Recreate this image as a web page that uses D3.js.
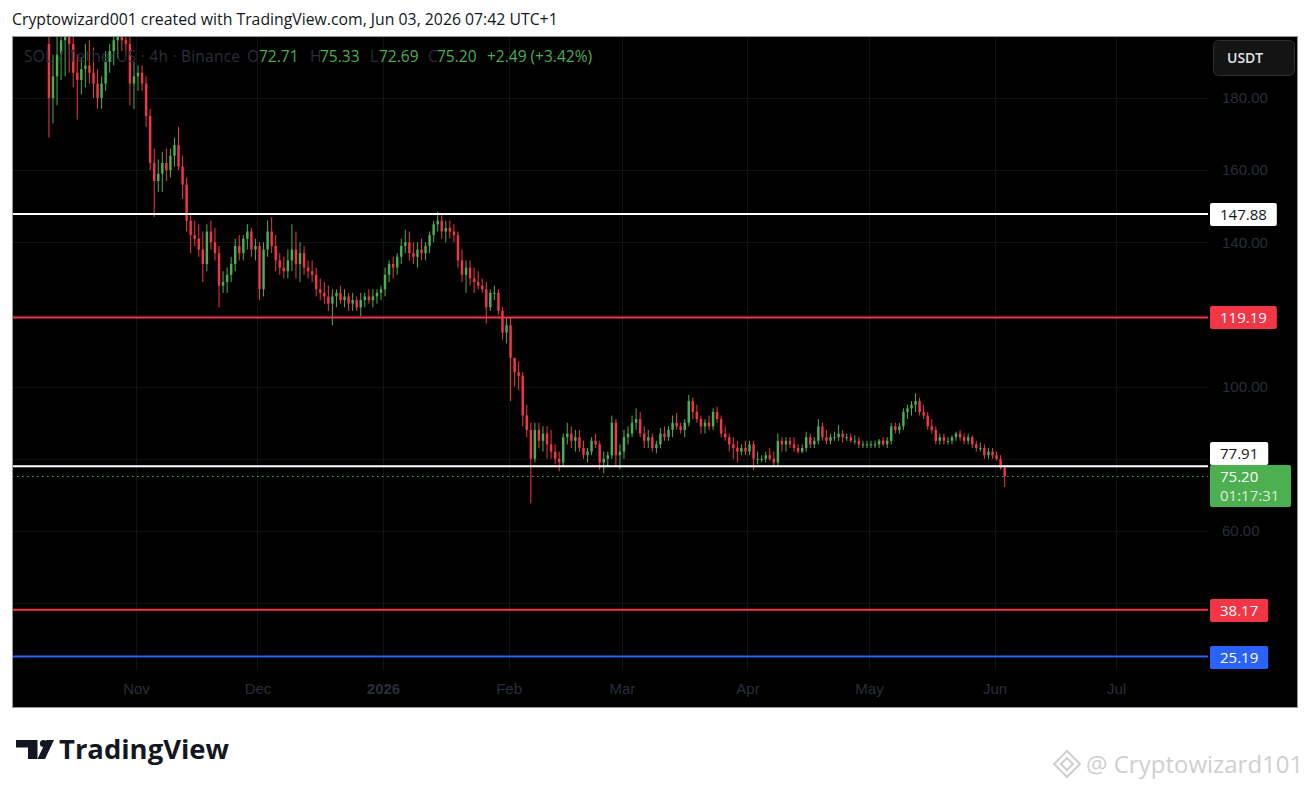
<!DOCTYPE html>
<html>
<head>
<meta charset="utf-8">
<script src="https://cdn.jsdelivr.net/npm/d3@7"></script>
<style>
html, body { margin: 0; padding: 0; background: #fff; }
svg { display: block; font-family: "Open Sans", "Noto Sans", sans-serif; }
</style>
</head>
<body>
<div id="chart"></div>
<script>
// SOL/USDT, one candle per day (Oct 10 2025 -> Jun 3 2026)
var startDate = "2025-10-10";
var firstOpen = 195;
var highs = [
  197,192,197,205,204,206,200,192,191,195,196,194,188,186,193,195,198,204,205,203,198,190,
  189,189,186,177,166,163,165,166,166,169,172,164,158,148,146,145,143,145,146,144,139,132,133,136,141,142,142,145,144,141,
  140,140,146,147,142,137,136,138,145,143,140,139,135,135,133,130,129,128,127,127,128,127,126,126,125,126,126,127,127,127,128,
  133,135,136,137,141,143.5,143,140,140,141,140,143,146,148.5,148,146,146,145,143,138,135,135,133,132,130,129,127,128,127,122,119,
  119,108,107,104,95,90,90,90,89,89,88,84,82,87,90,89,88,88,85,83,86,87,85,82,82,92,91,84,
  88,89,92,94,93,89,88,87,85,88.5,89,89,92,92.7,90,91,97.7,97,95,92,91,92,94,94.5,92,89,87,86,85,84,85,
  85,85,82,81,82,83,82,87,86,86,86,86,84,84,87.5,87,86,91,90,88,87,87.5,89.4,88,87,87,86.5,86,85,85,
  85,85,85.5,86,86,90,90,90,94,95,96,98.2,97,95,93,91,89,87,87,86,86.5,87.5,88,87,87,86.5,85,84.5,84,83,83,
  82,81,78
];
var lows = [
  169,173,178,185,186,187,183,174,181,183,184,180,177,177,182,187,189,191,193,192,178,177,
  182,182,172,160,147,154,154,157,158,161,160,152,143,137,139,136,129,132,138,135,122,126,126,129,132,135,135,138,136,135,
  124,125,136,137,132,131,130,130,132,130,129,131,130,129,125,124,123,121,117,122,123,122,121,121,121,119.5,122,123,122,123,124,
  125,129,130,131,134,137,135,134,133,135,135,137,140,143,141,140,141,140,133,129,126,128,126,127,126,117.5,121,124,120,113,112,
  96,100,99,89,86,67.7,79,83,82,80,80,78.5,76.5,78,84,83,82,82,80,79,81,83,77,76,78,80,78,77,
  80,84,86,88,86,83,83,82,81.5,83,85,85,86,88,87,86,89,91,90,87,87,88,88,90,86,85,82,80,79,81,81,
  81,77,78.5,79,79,79.5,78,78,82,82,83,82,81.5,81.5,82,83,83,84,85,84,84,85,85,84.5,85,84.5,84,83,83,83,
  83,83,83,83.5,83,84,87,87,88,91,92,93,92,91,88,87,84,84,84,84,84,85,85,84,84,83,82,82,80,80,80,
  79.5,77,72.2
];
var closes = [
  180,186,192,196,198,195,187,185,188,189,187,184,180,184,190,193,196,199,196,195,184,186,
  187,184,175,162,157,159,162,160,164,167,161,156,146,142,141,138,134,143,140,137,128,129,131,134,139,137,141,143,138,139,
  127,138,143,139,135,133,132,135,138,134,137,133,132,131,127,126,125,123,125,126,124,125,123,124,122,124,125,124,125,126,127,
  131,134,133,136,139,140,137,136,138,137,139,142,145,146,143,144,143,142,135,131,133,130,129,128,127,122,126,126,121,115,117,
  108,104,103,92,88,80,88,85,87,84,82,80,79,86,87,85,86,83,81,82,85,84,79,80,81,90,81,82,
  86,87,90,91,87,85,86,83,84,87,86,88,90,89,88,90,96,93,91,89,90,89,93,91,87,86,84,83,82,83,82,
  84,80,80,80,81,80,79,85,84,85,84,83,82,83,86,84,85,89,86,85,86,86,87,86,86,85,85,84,84,84,
  84,84,85,84,85,89,88,89,93,94,95,96,93,92,89,88,85,86,85,85,86,87,86,85,86,84,83,83,81,82,81,
  80,77.5,75.2
];

var priceTicks = [180, 160, 140, 120, 100, 80, 60, 40];
var monthTicks = ["2025-11-01","2025-12-01","2026-01-01","2026-02-01","2026-03-01","2026-04-01","2026-05-01","2026-06-01","2026-07-01"];
var monthLabels = ["Nov","Dec","2026","Feb","Mar","Apr","May","Jun","Jul"];
var levelValues = [147.88, 119.19, 77.91, 38.17, 25.19];
var levelColors = ["#ffffff", "#f23645", "#ffffff", "#f23645", "#2962ff"];
var lastPrice = 75.20;
var countdown = "01:17:31";
var legendKeys = ["O", "H", "L", "C"];
var legendValues = ["72.71", "75.33", "72.69", "75.20"];
var legendChange = "+2.49 (+3.42%)";

var W = 1311, H = 790;
var pane = {left: 12, top: 36, right: 1297, bottom: 707, plotRight: 1208};
var up = "#4caf50", down = "#f23645", axisText = "#2a2e39";

var svg = d3.select("#chart").append("svg")
    .attr("width", W).attr("height", H);

svg.append("text")
    .attr("x", 12).attr("y", 19).attr("dy", "0.35em")
    .attr("fill", "#131722").style("font-size", "15.8px")
    .text("Cryptowizard001 created with TradingView.com, Jun 03, 2026 07:42 UTC+1");

svg.append("rect")
    .attr("x", pane.left + 0.5).attr("y", pane.top + 0.5)
    .attr("width", pane.right - pane.left).attr("height", pane.bottom - pane.top)
    .attr("fill", "#000").attr("stroke", "#9598a1");

var x = d3.scaleUtc()
    .domain([new Date("2025-11-01T00:00:00Z"), new Date("2026-07-01T00:00:00Z")])
    .range([136, 1116]);
var y = d3.scaleLinear().domain([60, 180]).range([531, 98]);

var defs = svg.append("defs");
defs.append("clipPath").attr("id", "plot-clip").append("rect")
    .attr("x", pane.left + 1).attr("y", pane.top + 1)
    .attr("width", pane.plotRight - pane.left - 1).attr("height", pane.bottom - pane.top - 2);

// grid
var grid = svg.append("g").attr("clip-path", "url(#plot-clip)");
grid.selectAll(".vgrid").data(monthTicks).enter().append("line")
    .attr("x1", function (d) { return Math.round(x(new Date(d + "T00:00:00Z"))) + 0.5; })
    .attr("x2", function (d) { return Math.round(x(new Date(d + "T00:00:00Z"))) + 0.5; })
    .attr("y1", pane.top).attr("y2", 670)
    .attr("stroke", "#121212");
grid.selectAll(".hgrid").data(priceTicks).enter().append("line")
    .attr("x1", pane.left).attr("x2", pane.plotRight)
    .attr("y1", function (d) { return Math.round(y(d)) + 0.5; })
    .attr("y2", function (d) { return Math.round(y(d)) + 0.5; })
    .attr("stroke", "#121212");

// candles
var t0 = new Date(startDate + "T12:00:00Z");
var candles = closes.map(function (c, i) {
    return {
        date: d3.utcDay.offset(t0, i),
        open: i === 0 ? firstOpen : closes[i - 1],
        high: highs[i], low: lows[i], close: c
    };
});
var step = x(d3.utcDay.offset(t0, 1)) - x(t0);
var bodyW = step * 0.6;

var plot = svg.append("g").attr("clip-path", "url(#plot-clip)");
var candle = plot.selectAll(".candle").data(candles).enter().append("g");
candle.append("line")
    .attr("x1", function (d) { return x(d.date); })
    .attr("x2", function (d) { return x(d.date); })
    .attr("y1", function (d) { return y(Math.max(d.high, d.open, d.close)); })
    .attr("y2", function (d) { return y(Math.min(d.low, d.open, d.close)); })
    .attr("stroke", function (d) { return d.close >= d.open ? up : down; })
    .attr("stroke-width", 1);
candle.append("rect")
    .attr("x", function (d) { return x(d.date) - bodyW / 2; })
    .attr("width", bodyW)
    .attr("y", function (d) { return y(Math.max(d.open, d.close)); })
    .attr("height", function (d) { return Math.max(1, Math.abs(y(d.open) - y(d.close))); })
    .attr("fill", function (d) { return d.close >= d.open ? up : down; });

// legend
var legend = svg.append("g").style("font-size", "15.5px");
legend.append("text").attr("x", 24).attr("y", 57).attr("dy", "0.35em")
    .attr("fill", axisText).attr("textLength", 216).attr("lengthAdjust", "spacing")
    .text("SOL / TetherUS \u00b7 4h \u00b7 Binance");
var keyX = [247, 310, 370, 428], valX = [259, 320, 379, 437];
legendKeys.forEach(function (k, i) {
    legend.append("text").attr("x", keyX[i]).attr("y", 57).attr("dy", "0.35em")
        .attr("fill", axisText).text(k);
    legend.append("text").attr("x", valX[i]).attr("y", 57).attr("dy", "0.35em")
        .attr("fill", up).text(legendValues[i]);
});
legend.append("text").attr("x", 487).attr("y", 57).attr("dy", "0.35em")
    .attr("fill", up).text(legendChange);

// last price dotted line
plot.append("line")
    .attr("x1", pane.left).attr("x2", pane.plotRight)
    .attr("y1", Math.round(y(lastPrice)) + 0.5).attr("y2", Math.round(y(lastPrice)) + 0.5)
    .attr("stroke", up).attr("stroke-dasharray", "1.5,3.5");

// horizontal levels
plot.selectAll(".level").data(levelValues).enter().append("line")
    .attr("x1", pane.left).attr("x2", pane.plotRight)
    .attr("y1", function (d) { return y(d); })
    .attr("y2", function (d) { return y(d); })
    .attr("stroke", function (d, i) { return levelColors[i]; })
    .attr("stroke-width", 2);

// where the axis labels sit (tick labels under them are hidden, like TradingView)
var lastY = y(lastPrice);
var greenTop = Math.round(lastY) - 11, greenH = 42;
var boxes = levelValues.map(function (v) {
    var top = Math.round(y(v)) - 11;
    if (top + 23 > greenTop && top < greenTop + greenH) top = greenTop - 23;
    return {top: top, bottom: top + 23};
});
boxes.push({top: greenTop, bottom: greenTop + greenH});
var shownTicks = priceTicks.filter(function (t) {
    var ty = y(t);
    return !boxes.some(function (b) { return ty + 8 > b.top && ty - 8 < b.bottom; });
});

// axes
var yAxis = svg.append("g")
    .attr("transform", "translate(" + pane.plotRight + ",0)")
    .call(d3.axisRight(y).tickValues(shownTicks).tickFormat(d3.format(".2f")).tickSize(0).tickPadding(14));
yAxis.select(".domain").remove();
yAxis.selectAll("text").attr("fill", axisText).style("font-size", "15px").style("font-family", "inherit");

var xAxis = svg.append("g")
    .attr("transform", "translate(0,680)")
    .call(d3.axisBottom(x)
        .tickValues(monthTicks.map(function (d) { return new Date(d + "T00:00:00Z"); }))
        .tickFormat(function (d, i) { return monthLabels[i]; })
        .tickSize(0).tickPadding(0));
xAxis.select(".domain").remove();
xAxis.selectAll("text").attr("fill", axisText).attr("dy", "0.35em").attr("y", 9)
    .style("font-size", "15px").style("font-family", "inherit")
    .style("font-weight", function (d, i) { return monthLabels[i] === "2026" ? "bold" : "normal"; });

// price labels on the axis
var labels = svg.append("g").style("font-size", "15px");
levelValues.forEach(function (v, i) {
    var g = labels.append("g");
    var txt = g.append("text").attr("x", 1220).attr("dy", "0.35em")
        .attr("fill", levelColors[i] === "#ffffff" ? "#131722" : "#ffffff")
        .text(d3.format(".2f")(v));
    var w = txt.node().getComputedTextLength() + 20;
    g.insert("rect", "text").attr("x", 1210).attr("y", boxes[i].top)
        .attr("width", w).attr("height", 23).attr("rx", 2)
        .attr("fill", levelColors[i]);
    txt.attr("y", boxes[i].top + 11.5);
});

labels.append("rect").attr("x", 1210).attr("y", greenTop)
    .attr("width", 81).attr("height", greenH).attr("rx", 2).attr("fill", up);
labels.append("text").attr("x", 1220).attr("y", greenTop + 12).attr("dy", "0.35em")
    .attr("fill", "#ffffff").text(d3.format(".2f")(lastPrice));
labels.append("text").attr("x", 1220).attr("y", greenTop + 31).attr("dy", "0.35em")
    .attr("fill", "rgba(255,255,255,0.8)").text(countdown);

// currency button
svg.append("rect").attr("x", 1213.5).attr("y", 40.5).attr("width", 81).attr("height", 35)
    .attr("rx", 5).attr("fill", "#141414").attr("stroke", "#2e2e2e");
svg.append("text").attr("x", 1227).attr("y", 58).attr("dy", "0.35em")
    .attr("fill", "#e0e3eb").style("font-size", "14px").style("font-weight", 600).text("USDT");

// TradingView logo
var logo = svg.append("g").attr("fill", "#131722");
logo.append("path").attr("d", "M16,740 H37.5 V759 H28 V747.5 H16 Z");
logo.append("circle").attr("cx", 43.5).attr("cy", 743.5).attr("r", 3.6);
logo.append("path").attr("d", "M46.5,740 H54 L45,759 H37.5 Z");
svg.append("text").attr("x", 59).attr("y", 750).attr("dy", "0.35em")
    .attr("fill", "#131722").style("font-size", "27px").style("font-weight", 700)
    .attr("textLength", 170).attr("lengthAdjust", "spacingAndGlyphs").text("TradingView");

// watermark
var wm = svg.append("g").attr("fill", "none").attr("stroke", "#cfcfcf").attr("stroke-width", 2);
wm.append("path").attr("d", "M1067,751 L1080,764 L1067,777 L1054,764 Z");
wm.append("path").attr("d", "M1067,758 L1073,764 L1067,770 L1061,764 Z");
svg.append("text").attr("x", 1086).attr("y", 765).attr("dy", "0.35em")
    .attr("fill", "#cfcfcf").style("font-size", "24px").text("@ Cryptowizard101");
</script>
</body>
</html>
